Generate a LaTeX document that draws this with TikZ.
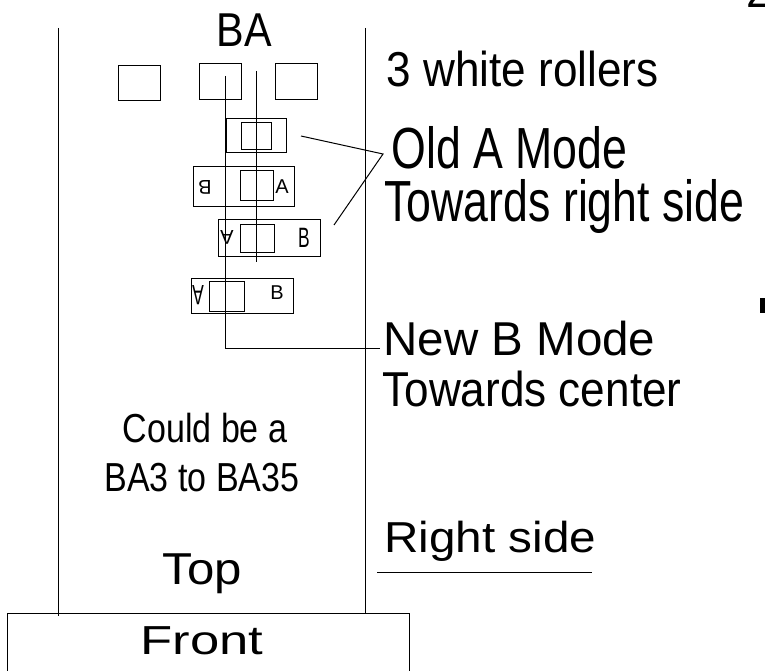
\documentclass[tikz,border=0pt]{standalone}
\usepackage{fontspec}
\setmainfont{Liberation Sans}
\newfontfamily\fontba[FakeStretch=0.87]{Liberation Sans}
\newfontfamily\fontroll[FakeStretch=0.9]{Liberation Sans}
\newfontfamily\fontold[FakeStretch=0.77]{Liberation Sans}
\newfontfamily\fontcould[FakeStretch=0.84]{Liberation Sans}
\newfontfamily\fontwide[FakeStretch=1.1]{Liberation Sans}
\newfontfamily\fontfront[FakeStretch=1.3]{Liberation Sans}
\newfontfamily\fontthin[FakeStretch=0.62]{Liberation Sans}
\usetikzlibrary{positioning}
\newcommand{\setfs}[1]{\fontsize{#1}{#1}\selectfont}

\begin{document}
\begin{tikzpicture}[x=1pt, y=-1pt, line width=1pt,
    lbl/.style={inner sep=0pt, anchor=base west},
    clbl/.style={inner sep=0pt, anchor=base},
    boxletter/.style={inner sep=0pt, font=\setfs{20}},
    roller/.style={draw, inner sep=0pt, minimum width=42pt, minimum height=36pt}]
  \useasboundingbox (0,0) rectangle (765,671);
  % side walls and front box
  \draw (58,28) -- (58,616);
  \draw (365,28) -- (365,613);
  \draw (7,613) rectangle (409,690);
  \node[clbl, font=\fontfront\setfs{40.5}] (front) at (202,654) {Front};
  \node[clbl, font=\fontwide\setfs{44.7}] (top) at (202.5,584) {Top};
  % rollers
  \node[clbl, font=\fontba\setfs{47.5}] (ba) at (244.5,47) {BA};
  \node[roller, minimum height=35pt] (r1) at (139,83.5) {};
  \node[roller] (r2) at (220,82) {};
  \node[roller] (r3) at (296,82) {};
  \node[lbl, font=\fontroll\setfs{49}] (rollers) at (386,87) {3 white rollers};
  % guide positions
  \draw (226,119) rectangle (286,153);
  \draw (241,123) rectangle (271,150);
  \draw (193,167) rectangle (294,206);
  \draw (240,171) rectangle (273,200);
  \node[boxletter, rotate=180] (b2) at (205,187) {B};
  \node[boxletter] (a2) at (282,187) {A};
  \draw (218,219) rectangle (320,256);
  \draw (240,224) rectangle (274,252);
  \node[boxletter, rotate=180] (a3) at (227,237) {A};
  \node[boxletter, font=\fontthin\setfs{28}] (b3) at (304,238) {B};
  \draw (191,278) rectangle (293,313);
  \draw (209,281) rectangle (244,311);
  \node[boxletter, rotate=180, font=\fontthin\setfs{28}] (a4) at (198,295) {A};
  \node[boxletter] (b4) at (277,293) {B};
  % centre lines
  \coordinate (oldtop) at (256,71);
  \coordinate (oldbot) at (256,262);
  \draw (oldtop) -- (oldbot);
  \coordinate (newtop) at (225,76);
  \coordinate (newbend) at (225,348);
  \coordinate (newend) at (380,348);
  \draw (newtop) -- (newbend) -- (newend);
  % labels
  \node[lbl, font=\fontold\setfs{58}] (oldA) at (391,169) {Old A Mode};
  \node[lbl, font=\fontold\setfs{58}] (oldAtw) at (384,221) {Towards right side};
  \coordinate (oldstart) at (301,136);
  \coordinate (oldtip) at (383,154);
  \coordinate (oldend) at (334,225);
  \draw (oldstart) -- (oldtip) -- (oldend);
  \node[lbl, font=\setfs{47.5}] (newB) at (383,355) {New B Mode};
  \node[lbl, font=\fontroll\setfs{49}] (newBtw) at (382,406) {Towards center};
  \node[clbl, font=\fontcould\setfs{40.5}] (could) at (205,442) {Could be a};
  \node[clbl, font=\fontcould\setfs{40.5}] (range) at (202,491) {BA3 to BA35};
  \node[lbl, font=\fontwide\setfs{43.3}] (right) at (384,552) {Right side};
  \coordinate (ulstart) at (377,572);
  \coordinate (ulend) at (592,572);
  \draw (ulstart) -- (ulend);
  % cut-off marks at the page edge
  \node[lbl, font=\setfs{45}] (pgnum) at (746,8) {2};
  \fill (760,298) rectangle (766,313);
\end{tikzpicture}
\end{document}
